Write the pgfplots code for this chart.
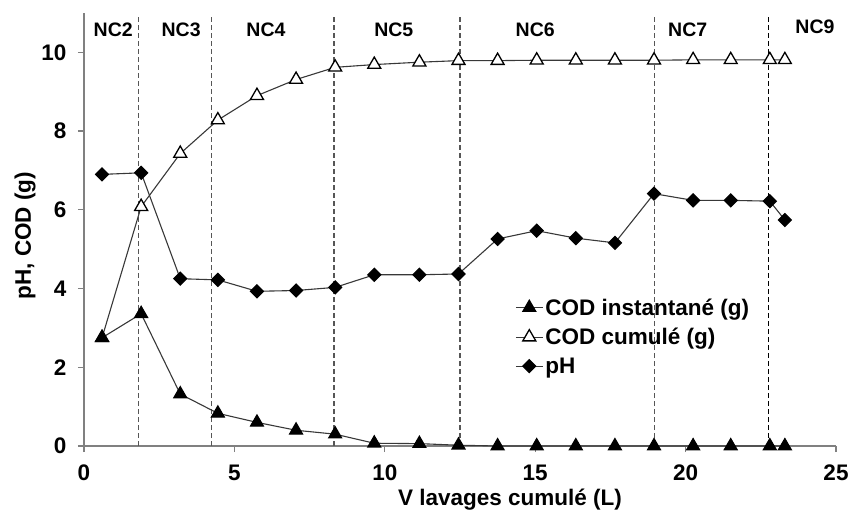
\documentclass[border=0pt]{standalone}
\usepackage{pgfplots}
\pgfplotsset{compat=1.18}
\usepackage{fontspec}
\setmainfont{Liberation Sans}
\definecolor{axgray}{HTML}{808080}
\definecolor{lngray}{HTML}{383838}
\newcommand{\bigf}{\fontsize{22.5}{27}\selectfont\bfseries}
\newcommand{\ncf}{\fontsize{19.5}{23}\selectfont\bfseries}
\begin{document}
\begin{tikzpicture}
\path[use as bounding box] (-84pt,-76pt) rectangle (764pt,446pt);
\begin{axis}[
  at={(0pt,0pt)}, anchor=south west,
  scale only axis, width=752pt, height=433pt,
  xmin=0, xmax=25, ymin=0, ymax=11,
  axis x line=bottom, axis y line=left,
  axis line style={-, axgray, line width=1.4pt},
  xtick={0,5,10,15,20,25}, ytick={0,2,4,6,8,10},
  tick align=outside, major tick length=6pt,
  tick style={axgray, line width=1.2pt},
  /pgf/number format/assume math mode=true,
  tick label style={font=\bigf},
  xticklabel style={yshift=-9pt},
  yticklabel style={xshift=-8pt},
  xlabel={V lavages cumulé (L)}, ylabel={pH, COD (g)},
  label style={font=\bigf},
  xlabel style={xshift=50pt, yshift=-2pt},
  ylabel style={yshift=-1pt, xshift=-6pt},
  clip=false,
  reverse legend,
  legend style={draw=none, fill=none, at={(axis cs:14.33,3.8)}, anchor=north west,
    font=\bigf, row sep=7.5pt, inner sep=0pt},
  legend cell align=left,
  legend image code/.code={\draw[mark repeat=2,mark phase=2] plot coordinates {(0pt,0pt) (13.5pt,0pt) (27pt,0pt)};},
]
% vertical dashed separators
\addplot[forget plot, lngray!85, line width=1.1pt, dash pattern=on 5pt off 3pt] coordinates {(1.8,0) (1.8,10.9)};
\addplot[forget plot, lngray!85, line width=1.1pt, dash pattern=on 5pt off 3pt] coordinates {(4.23,0) (4.23,10.9)};
\addplot[forget plot, lngray!85, line width=1.1pt, dash pattern=on 5pt off 3pt] coordinates {(8.31,0) (8.31,10.9)};
\addplot[forget plot, lngray!85, line width=1.1pt, dash pattern=on 5pt off 3pt] coordinates {(12.5,0) (12.5,10.9)};
\addplot[forget plot, lngray!85, line width=1.1pt, dash pattern=on 5pt off 3pt] coordinates {(18.96,0) (18.96,10.9)};
\addplot[forget plot, black, line width=1.1pt, dash pattern=on 5pt off 3pt] coordinates {(22.77,0) (22.77,10.9)};
% pH
\addplot[lngray, line width=1.1pt, mark=square*, mark size=4.6pt, mark options={rotate=45, fill=black, draw=black, solid}] coordinates {
(0.6,6.9) (1.9,6.94) (3.2,4.25) (4.45,4.22) (5.75,3.93) (7.05,3.95) (8.35,4.03) (9.65,4.35) (11.15,4.35) (12.45,4.37)
(13.75,5.26) (15.05,5.47) (16.35,5.28) (17.65,5.16) (18.95,6.41) (20.25,6.24) (21.5,6.24) (22.8,6.22) (23.3,5.74)};
\addlegendentry{pH}
% COD cumule
\addplot[lngray, line width=1.1pt, mark=triangle*, mark size=7.5pt, mark options={fill=white, draw=black, line width=1.3pt, solid}] coordinates {
(0.6,2.75) (1.9,6.08) (3.2,7.43) (4.45,8.28) (5.75,8.9) (7.05,9.31) (8.35,9.62) (9.65,9.69) (11.15,9.75) (12.45,9.79)
(13.75,9.79) (15.05,9.8) (16.35,9.8) (17.65,9.8) (18.95,9.8) (20.25,9.81) (21.5,9.81) (22.8,9.81) (23.3,9.81)};
\addlegendentry{COD cumulé (g)}
% COD instantane
\addplot[lngray, line width=1.1pt, mark=triangle*, mark size=7.5pt, mark options={fill=black, draw=black, solid}] coordinates {
(0.6,2.75) (1.9,3.36) (3.2,1.32) (4.45,0.83) (5.75,0.6) (7.05,0.4) (8.35,0.3) (9.65,0.07) (11.15,0.06) (12.45,0.02)
(13.75,0) (15.05,0) (16.35,0) (17.65,0) (18.95,0) (20.25,0) (21.5,0) (22.8,0) (23.3,0)};
\addlegendentry{COD instantané (g)}
% zone labels
\node[font=\ncf] at (axis cs:0.97,10.58) {NC2};
\node[font=\ncf] at (axis cs:3.23,10.58) {NC3};
\node[font=\ncf] at (axis cs:6.05,10.58) {NC4};
\node[font=\ncf] at (axis cs:10.3,10.58) {NC5};
\node[font=\ncf] at (axis cs:15.0,10.58) {NC6};
\node[font=\ncf] at (axis cs:20.07,10.58) {NC7};
\node[font=\ncf] at (axis cs:24.3,10.65) {NC9};
\end{axis}
\end{tikzpicture}
\end{document}
